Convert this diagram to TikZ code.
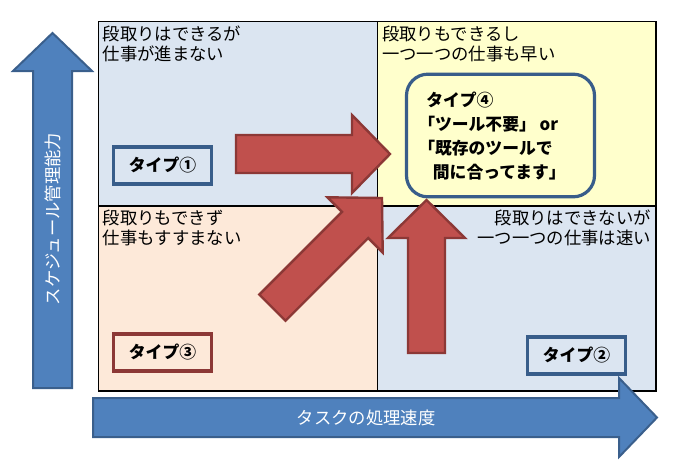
\documentclass[tikz,border=0pt]{standalone}
\usepackage{fontspec}
\setmainfont{Noto Sans CJK JP}
\definecolor{qblue}{HTML}{DBE5F1}
\definecolor{qyellow}{HTML}{FFFFCC}
\definecolor{qpeach}{HTML}{FDE9D9}
\definecolor{abluefill}{HTML}{4F81BD}
\definecolor{abluedraw}{HTML}{3A5F8C}
\definecolor{aredfill}{HTML}{C0504D}
\definecolor{areddraw}{HTML}{8C3836}
\definecolor{boxblue}{HTML}{385D8A}
\begin{document}
\begin{tikzpicture}[x=0.75pt,y=-0.75pt,
  bluearrow/.style={fill=abluefill,draw=abluedraw,line width=1.5pt,line join=miter},
  redarrow/.style={fill=aredfill,draw=areddraw,line width=1.8pt,line join=miter},
  quadtext/.style={inner sep=0pt,font=\fontsize{13}{15}\selectfont},
  typebox/.style={draw=boxblue,line width=2.4pt,minimum width=74pt,minimum height=27.75pt,inner sep=0pt,font=\bfseries\fontsize{12.6}{14}\selectfont},
  axistext/.style={text=white,inner sep=0pt,font=\fontsize{13}{15}\selectfont}]
\useasboundingbox (0,0) rectangle (696,469);
% quadrants
\fill[qblue] (98.5,21.5) rectangle (377.5,206);
\fill[qyellow] (377.5,21.5) rectangle (656,206);
\fill[qpeach] (98.5,206) rectangle (377.5,391);
\fill[qblue] (377.5,206) rectangle (656,391);
\draw[line width=0.9pt] (98.5,21.5) rectangle (656,391);
\draw[line width=0.9pt] (98.5,206) -- (656,206);
\draw[line width=0.9pt] (377.5,21.5) -- (377.5,391);
% quadrant texts
\node[quadtext,anchor=west,align=left] (q1) at (102.5,44) {段取りはできるが\\仕事が進まない};
\node[quadtext,anchor=west,align=left] (q4) at (382,44) {段取りもできるし\\一つ一つの仕事も早い};
\node[quadtext,anchor=west,align=left] (q3) at (102.5,228) {段取りもできず\\仕事もすすまない};
\node[quadtext,anchor=east,align=right] (q2) at (651,228) {段取りはできないが\\一つ一つの仕事は速い};
% type boxes
\node[typebox,fill=qblue] (t1) at (162.5,165.5) {タイプ①};
\node[typebox,fill=qpeach,draw=areddraw] (t3) at (162.5,352.5) {タイプ③};
\node[typebox,fill=qblue] (t2) at (576.5,355.5) {タイプ②};
% red arrows
\draw[redarrow] (236,135) -- (352,135) -- (352,115) -- (390,154) -- (352,193) -- (352,173) -- (236,173) -- cycle;
\draw[redarrow] (408,353) -- (408,238) -- (388,238) -- (426.5,200) -- (465,238) -- (445,238) -- (445,353) -- cycle;
\draw[redarrow] (285.5,320.7) -- (368.2,238) -- (382.7,252.5) -- (382,198) -- (327.5,197.3) -- (342,211.8) -- (259.3,294.5) -- cycle;
% type 4
\node[draw=boxblue,line width=2.4pt,fill=qyellow,rounded corners=16pt,minimum width=141pt,minimum height=92pt,inner sep=0pt] (t4) at (500.5,135.5) {};
\node[inner sep=0pt,anchor=west,align=left,font=\bfseries\fontsize{12.6}{18}\selectfont] (t4text) at (418,136.5) {\hspace*{6pt}タイプ④\\「ツール不要」 or\\「既存のツールで\\\hspace*{11pt}間に合ってます」};
% blue arrows
\draw[bluearrow] (93,398) -- (619,398) -- (619,378) -- (657,417.5) -- (619,457) -- (619,437) -- (93,437) -- cycle;
\draw[bluearrow] (33,388) -- (33,71) -- (13,71) -- (52.5,33) -- (92,71) -- (72,71) -- (72,388) -- cycle;
\node[axistext] (xlabel) at (366,418) {タスクの処理速度};
\node[axistext,rotate=90] (ylabel) at (52.5,219) {スケジュール管理能力};
\end{tikzpicture}
\end{document}
